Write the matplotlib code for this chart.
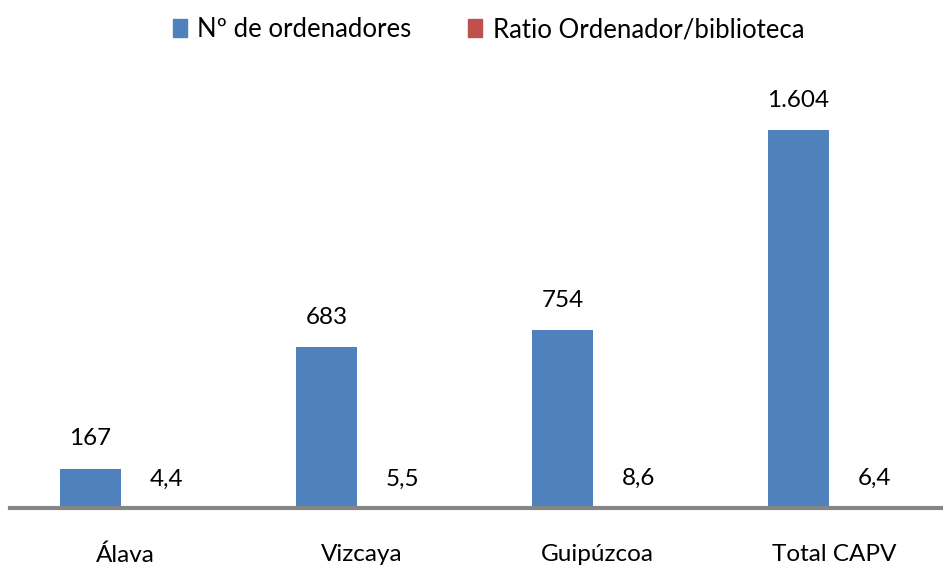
import numpy as np
import matplotlib
matplotlib.use("Agg")
import matplotlib.pyplot as plt
from matplotlib.patches import Patch

plt.rcParams['font.family'] = ['Lato', 'DejaVu Sans']

categories = ["Álava", "Vizcaya", "Guipúzcoa", "Total CAPV"]
ordenadores = [167, 683, 754, 1604]
ratio = [4.4, 5.5, 8.6, 6.4]
series_names = ["Nº de ordenadores", "Ratio Ordenador/biblioteca"]

blue = "#4F81BD"
red = "#C0504D"


def fmt_miles(v):
    return f"{v:,.0f}".replace(",", ".")


def fmt_dec(v):
    return f"{v:.1f}".replace(".", ",")


fig = plt.figure(figsize=(9.43, 5.68), dpi=100)
ax = fig.add_axes([0.0, 1 - 508 / 568, 1.0, 428 / 568])

x = np.arange(len(categories))
w = 0.258
ax.bar(x - w / 2, ordenadores, width=w, color=blue)
ax.bar(x + w / 2, ratio, width=w, color=red)

for xi, v in zip(x, ordenadores):
    ax.annotate(fmt_miles(v), (xi - w / 2, v), xytext=(0, 21.5), textcoords="offset points",
                ha="center", va="center", fontsize=17.5)
for xi, v in zip(x, ratio):
    ax.annotate(fmt_dec(v), (xi + w / 2 + 0.065, v), xytext=(0, 20), textcoords="offset points",
                ha="center", va="center", fontsize=17.5)

ax.set_xlim(-0.5127, 3.483)
ax.set_ylim(0, 1604 * 428 / 378)
ax.set_xticks(x + 0.02)
ax.set_xticklabels(categories, fontsize=17.5)
ax.tick_params(axis="x", length=0, pad=26)
ax.set_yticks([])
for s in ["top", "right", "left"]:
    ax.spines[s].set_visible(False)
ax.spines["bottom"].set_color("#868686")
ax.spines["bottom"].set_linewidth(3)
ax.spines["bottom"].set_zorder(5)
ax.spines["bottom"].set_bounds(-0.47, 3.483)

handles = [Patch(color=blue), Patch(color=red)]
fig.legend(handles, series_names, loc="upper center", bbox_to_anchor=(0.518, 1.01), ncol=2,
           frameon=False, fontsize=18.5, handlelength=0.55, handleheight=0.7,
           handletextpad=0.4, columnspacing=2.2)

fig.savefig("out.png", dpi=100)
